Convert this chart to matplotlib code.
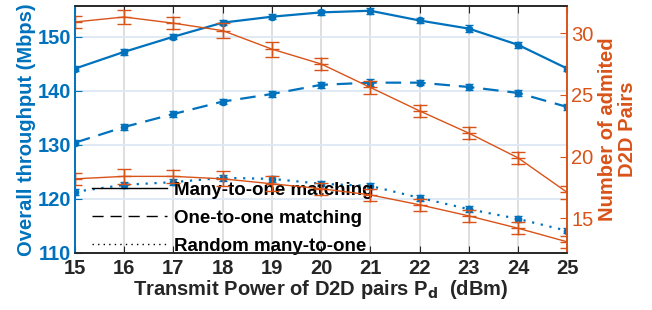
import numpy as np
import matplotlib
matplotlib.use("Agg")
import matplotlib.pyplot as plt
from matplotlib.lines import Line2D

# === DATOS ===
power = [15, 16, 17, 18, 19, 20, 21, 22, 23, 24, 25]

thr_many = [144.1, 147.2, 150.0, 152.6, 153.7, 154.5, 154.8, 153.0, 151.5, 148.5, 144.1]
thr_one = [130.4, 133.3, 135.7, 138.0, 139.4, 141.1, 141.5, 141.5, 140.7, 139.6, 137.0]
thr_rand = [121.3, 122.6, 123.1, 123.9, 123.7, 122.8, 122.4, 120.2, 118.1, 116.3, 114.1]
thr_err = [0.5, 0.5, 0.5, 0.5, 0.5, 0.5, 0.6, 0.5, 0.6, 0.6, 0.5]

pairs_many = [30.9, 31.3, 30.8, 30.2, 28.7, 27.5, 25.6, 23.7, 21.9, 19.9, 17.1]
pairs_rand = [18.2, 18.4, 18.4, 18.2, 17.8, 17.4, 16.9, 16.1, 15.2, 14.2, 13.1]
pairs_err = [0.5, 0.6, 0.5, 0.6, 0.6, 0.5, 0.5, 0.5, 0.5, 0.5, 0.5]

legend_labels = ['Many-to-one matching', 'One-to-one matching', 'Random many-to-one']

# === ESTILO ===
blue = '#0072BD'
orange = '#D95319'
plt.rcParams['font.family'] = ['Liberation Sans', 'DejaVu Sans']

fig = plt.figure(figsize=(6.52, 3.10), dpi=100)
ax = fig.add_axes([0.115, 0.184, 0.755, 0.797])
ax2 = ax.twinx()

# grid
ax.set_xticks(power)
ax.grid(axis='x', color='#dcdcdc', lw=1.3, zorder=0)
ax.set_yticks([110, 120, 130, 140, 150])
ax.grid(axis='y', color='#dce8f4', lw=1.3, zorder=0)
ax.set_axisbelow(True)

# throughput (eje izquierdo)
eb_kw = dict(color=blue, lw=1.6, marker='o', ms=4.5, capsize=3, elinewidth=1.0, capthick=1.0)
ax.errorbar(power, thr_many, yerr=thr_err, ls='-', **eb_kw)
ax.errorbar(power, thr_one, yerr=thr_err, ls=(0, (7, 4)), **eb_kw)
ax.errorbar(power, thr_rand, yerr=thr_err, ls=(0, (1, 3)), **eb_kw)

# pares admitidos (eje derecho)
eb2 = dict(color=orange, lw=1.0, marker='+', ms=10, mew=1.0, capsize=5, elinewidth=1.0, capthick=1.0)
ax2.errorbar(power, pairs_many, yerr=pairs_err, ls='-', **eb2)
ax2.errorbar(power, pairs_rand, yerr=pairs_err, ls='-', **eb2)

ax.set_xlim(15, 25)
ax.set_ylim(110, 155.7)
ax2.set_ylim(12.2, 32.2)
ax2.set_yticks([15, 20, 25, 30])

# ejes y colores
for a in (ax, ax2):
    a.spines['top'].set_color('#262626')
    a.spines['bottom'].set_color('#262626')
    a.spines['left'].set_color(blue)
    a.spines['right'].set_color(orange)
    for s in a.spines.values():
        s.set_linewidth(1.2)

fs = 14.5
ax.tick_params(axis='x', direction='in', top=True, length=5, colors='#262626', labelsize=fs, pad=4)
ax.tick_params(axis='y', direction='in', length=5, colors=blue, labelsize=fs, pad=3)
ax2.tick_params(axis='y', direction='in', length=5, colors=orange, labelsize=fs, pad=3)
for lab in ax.get_xticklabels() + ax.get_yticklabels():
    lab.set_fontweight('bold')

ax.set_xlabel(r'Transmit Power of D2D pairs P$_\mathbf{d}$  (dBm)', fontsize=fs,
              fontweight='bold', color='#262626', labelpad=0)
ax.set_ylabel('Overall throughput (Mbps)', fontsize=fs, fontweight='bold', color=blue, labelpad=1)
ax2.set_ylabel('Number of admited\nD2D Pairs', fontsize=fs, fontweight='bold', color=orange,
               labelpad=3, linespacing=1.05)

# leyenda
handles = [Line2D([], [], color='k', lw=1.0, ls='-'),
           Line2D([], [], color='k', lw=1.0, ls=(0, (8, 5))),
           Line2D([], [], color='k', lw=1.0, ls=(0, (1, 3)))]
leg = ax.legend(handles, legend_labels, loc='lower left', bbox_to_anchor=(0.0, -0.075),
                frameon=False, handlelength=4.0, handletextpad=0.4, labelspacing=0.58,
                prop={'weight': 'bold', 'size': 13.5})
leg.set_zorder(10)

fig.savefig('out.png', dpi=100)
